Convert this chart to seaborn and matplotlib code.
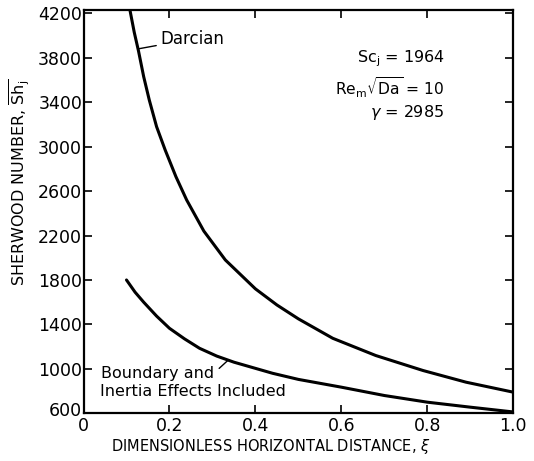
import matplotlib
matplotlib.use("Agg")
import matplotlib.pyplot as plt
import matplotlib.transforms as mtransforms
import seaborn as sns
import pandas as pd

# Data
darcian_xi = [0.108, 0.118, 0.128, 0.140, 0.153, 0.170, 0.19, 0.215, 0.24, 0.28, 0.33, 0.40,
              0.45, 0.50, 0.58, 0.68, 0.79, 0.89, 1.0]
darcian_sh = [4230, 4030, 3860, 3630, 3420, 3180, 2970, 2730, 2520, 2240, 1980, 1720,
              1575, 1450, 1275, 1120, 985, 880, 790]
boundary_xi = [0.10, 0.12, 0.14, 0.17, 0.20, 0.235, 0.27, 0.31, 0.35, 0.44, 0.50, 0.60,
               0.70, 0.80, 0.90, 1.0]
boundary_sh = [1800, 1690, 1600, 1475, 1365, 1270, 1185, 1115, 1060, 960, 905, 835,
               760, 700, 655, 612]

x_ticks = [0, 0.2, 0.4, 0.6, 0.8, 1.0]
x_tick_labels = ["0", "0.2", "0.4", "0.6", "0.8", "1.0"]
y_ticks = [600, 1000, 1400, 1800, 2200, 2600, 3000, 3400, 3800, 4200]

sns.set_style("ticks")
plt.rcParams["font.family"] = ["DejaVu Sans"]
plt.rcParams["text.color"] = "black"
plt.rcParams["axes.labelcolor"] = "black"

df = pd.concat([
    pd.DataFrame({"xi": darcian_xi, "sh": darcian_sh, "series": "Darcian"}),
    pd.DataFrame({"xi": boundary_xi, "sh": boundary_sh, "series": "Boundary"}),
])

fig = plt.figure(figsize=(5.34, 4.61), dpi=100)
ax = fig.add_axes([0.1564, 0.1035, 0.8048, 0.8748])

sns.lineplot(data=df, x="xi", y="sh", units="series", estimator=None,
             color="black", lw=2.2, sort=False, ax=ax, legend=False)

ax.set_xlim(0, 1.0)
ax.set_ylim(600, 4230)
ax.set_xticks(x_ticks)
ax.set_xticklabels(x_tick_labels)
ax.set_yticks(y_ticks)
ax.tick_params(direction="in", length=6, width=1.2, top=True, right=True,
               labelsize=12.5, colors="black")
ax.tick_params(axis="y", pad=1)
ax.tick_params(axis="x", pad=3)
for s in ax.spines.values():
    s.set_linewidth(1.6)
    s.set_color("black")

# lift the lowest y tick label slightly so it clears the "0" x tick label
lowest = ax.get_yticklabels()[0]
lowest.set_transform(lowest.get_transform() +
                     mtransforms.ScaledTranslation(0, 4 / 100, fig.dpi_scale_trans))

ax.set_xlabel(r"DIMENSIONLESS HORIZONTAL DISTANCE, $\xi$", fontsize=10.5)
ax.xaxis.set_label_coords(0.436, -0.06)
ax.set_ylabel(r"SHERWOOD NUMBER, $\overline{\mathrm{Sh}_\mathrm{j}}$", fontsize=11.5)
ax.yaxis.set_label_coords(-0.12, 0.574)

ax.text(0.841, 3795, r"Sc$_\mathrm{j}$ = 1964", ha="right", va="center", fontsize=11.5)
ax.text(0.585, 3534, r"Re$_\mathrm{m}\sqrt{\mathrm{Da}}$ = 10", ha="left", va="center", fontsize=11.2)
ax.text(0.667, 3309, r"$\gamma$ = 2985", ha="left", va="center", fontsize=11.5)

ax.annotate("Darcian", xy=(0.127, 3880), xytext=(0.18, 3970),
            ha="left", va="center", fontsize=12,
            arrowprops=dict(arrowstyle="-", color="black", lw=1, shrinkA=1, shrinkB=0))
ax.annotate("Boundary and", xy=(0.337, 1080), xytext=(0.04, 960),
            ha="left", va="center", fontsize=11.5,
            arrowprops=dict(arrowstyle="-", color="black", lw=1, shrinkA=2, shrinkB=0,
                            relpos=(1.0, 0.5)))
ax.text(0.038, 800, "Inertia Effects Included", ha="left", va="center", fontsize=11.5)

fig.savefig("out.png", dpi=100)
